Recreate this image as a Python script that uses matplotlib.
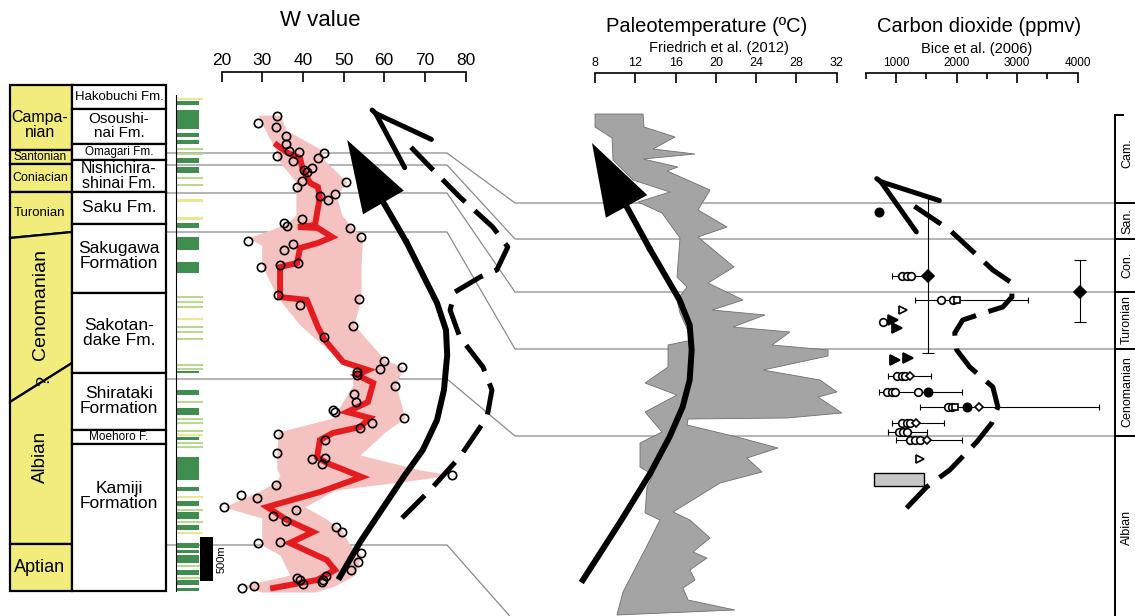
import numpy as np
import matplotlib.pyplot as plt
from matplotlib.patches import FancyArrowPatch

plt.rcParams['font.family'] = ['Liberation Sans', 'DejaVu Sans']

FIG_W, FIG_H = 1135, 616   # pixels; vertical levels below are figure rows (top = 0)

# ---------- stratigraphic column ----------
stage_names = ['Campa-\nnian', 'Santonian', 'Coniacian', 'Turonian', 'Cenomanian', 'Albian', 'Aptian']
stage_top_l = [85, 150, 164, 192, 238, 402, 544]
stage_top_r = [85, 150, 164, 192, 232, 363, 544]
stage_base = 591
stage_lab_y = [125, 157, 178, 213, 305, 457, 568]
stage_lab_rot = [0, 0, 0, 0, 90, 90, 0]
stage_lab_size = [11.5, 8.5, 9, 9.5, 14, 13.5, 13]

fm_names = ['Hakobuchi Fm.', 'Osoushi-\nnai Fm.', 'Omagari Fm.', 'Nishichira-\nshinai Fm.', 'Saku Fm.',
            'Sakugawa\nFormation', 'Sakotan-\ndake Fm.', 'Shirataki\nFormation', 'Moehoro F.', 'Kamiji\nFormation']
fm_bounds = [85, 109, 144, 160, 192, 224, 293, 373, 430, 444, 591]
fm_lab_y = [97, 126, 152, 176, 208, 256, 333, 401, 437, 496]
fm_lab_size = [9.5, 11, 8.5, 11.5, 12.5, 12.5, 12.5, 12.5, 8.5, 12.5]

lith_top = [98, 101, 110, 133, 140, 148, 153, 158, 167, 177, 184, 199, 217, 223, 237, 262, 296, 301,
            306, 318, 326, 331, 338, 364, 368, 371, 390, 401, 408, 418, 422, 430, 434, 437, 442, 446,
            457, 487, 496, 501, 509, 512, 521, 525, 532, 543, 550, 555, 565, 570, 577, 580, 588]
lith_bot = [100, 105, 129, 137, 144, 150, 155, 163, 173, 179, 186, 202, 220, 228, 250, 273, 298, 303,
            308, 320, 328, 333, 340, 366, 370, 373, 395, 403, 415, 420, 424, 432, 436, 440, 444, 448,
            480, 491, 498, 506, 511, 519, 523, 530, 534, 548, 553, 563, 567, 575, 579, 585, 591]
lith_kind = ['y', 'm', 'm', 'm', 'm', 's', 's', 'm', 'm', 's', 's', 'y', 'y', 'm', 'm', 'm', 's', 's',
             's', 'y', 's', 's', 's', 's', 's', 'm', 'm', 's', 'm', 's', 's', 's', 'y', 'm', 's', 's',
             'm', 'm', 'y', 'm', 's', 'm', 's', 'm', 'y', 'm', 'm', 'm', 's', 'm', 's', 'm', 'm']

# correlation lines: level in the section -> level on the age scale
tie_section = [153, 165, 193, 232, 379, 545]
tie_age = [203, 239, 292, 349, 436, 622]

age_names = ['Cam.', 'San.', 'Con.', 'Turonian', 'Cenomanian', 'Albian']
age_bounds = [115, 203, 239, 292, 349, 436, 616]
age_lab_y = [153, 221, 265, 320, 392, 527]

# ---------- W value ----------
w_lvl = [116, 123, 127, 136, 144, 151, 152, 156, 161, 153, 158, 168, 170, 172, 181, 187, 182, 196, 200,
         194, 219, 223, 226, 228, 237, 241, 244, 250, 263, 265, 267, 299, 295, 305, 326, 337, 361, 369,
         367, 372, 375, 386, 394, 402, 410, 412, 418, 423, 428, 434, 440, 453, 459, 458, 464, 475, 485,
         495, 498, 507, 510, 516, 521, 527, 532, 543, 542, 553, 562, 570, 578, 580, 584, 576, 580, 582,
         588, 586]
w_val = [33.6, 29.0, 33.4, 35.9, 35.9, 36.6, 39.1, 33.6, 37.6, 45.2, 43.7, 42.3, 40.3, 41.0, 39.8, 38.6,
         50.6, 44.2, 46.2, 47.9, 39.8, 35.4, 36.1, 51.6, 54.3, 26.5, 37.6, 35.4, 38.8, 34.4, 29.7, 53.8,
         33.9, 39.3, 52.3, 45.2, 60.0, 59.0, 64.4, 53.3, 53.3, 62.7, 52.6, 53.1, 47.4, 47.9, 64.9, 57.0,
         54.1, 33.9, 45.4, 33.6, 42.3, 45.4, 44.7, 76.7, 33.4, 24.8, 28.7, 20.6, 38.3, 32.7, 35.9, 48.2,
         49.6, 29.0, 34.4, 54.3, 53.6, 51.8, 38.6, 39.3, 40.0, 45.7, 45.0, 44.7, 25.0, 28.0]

w_mean_lvl = [145, 153, 158, 170, 183, 187, 197, 213, 225, 227, 228, 237, 243, 248, 263, 267, 297, 300,
              327, 340, 362, 370, 375, 383, 402, 412, 418, 427, 433, 440, 457, 463, 477, 492, 507, 520,
              532, 543, 560, 570, 580, 588]
w_mean = [33.6, 36.3, 39.3, 40.0, 41.8, 43.7, 44.2, 43.5, 43.0, 38.8, 43.7, 47.2, 43.7, 39.3, 38.6, 34.4,
          34.4, 41.0, 43.7, 45.4, 49.9, 56.0, 53.3, 57.3, 56.0, 50.9, 56.5, 54.1, 47.4, 44.2, 43.5, 45.9,
          54.5, 44.2, 31.2, 36.1, 42.5, 36.8, 45.9, 47.9, 43.5, 32.7]

w_env_lvl = [115, 130, 150, 160, 182, 195, 215, 225, 238, 245, 265, 298, 325, 360, 367, 385, 418, 432,
             455, 470, 475, 482, 490, 507, 518, 530, 545, 555, 575, 586, 592]
w_env_lo = [29.0, 30.7, 33.4, 33.9, 38.3, 38.3, 38.3, 35.4, 26.5, 29.9, 29.9, 33.9, 39.3, 49.1, 52.1,
            52.3, 47.4, 33.9, 33.6, 33.6, 34.4, 33.4, 29.9, 20.6, 29.9, 29.9, 29.9, 34.4, 36.8, 25.0, 29.9]
w_env_hi = [34.4, 35.9, 44.7, 45.2, 50.9, 48.2, 49.6, 51.6, 54.6, 54.6, 54.3, 54.3, 52.6, 60.2, 64.6,
            62.9, 65.1, 60.2, 54.1, 68.8, 76.7, 63.9, 47.9, 40.5, 45.4, 49.6, 51.6, 54.3, 52.8, 47.9, 43.0]

w_trend_lvl = [577, 542, 475, 450, 420, 390, 355, 330, 303, 243]
w_trend = [49.1, 54.1, 65.1, 69.5, 73.0, 74.7, 75.5, 75.2, 73.0, 65.6]
w_trend_tip = (50.9, 140)
w_trend2_lvl = [518, 490, 457, 417, 390, 367, 337, 310, 292, 277, 270, 247, 227, 197, 167, 143]
w_trend2 = [64.4, 71.3, 78.6, 85.3, 86.5, 84.3, 78.6, 76.2, 77.4, 83.6, 87.7, 90.4, 86.7, 78.6, 71.3, 65.6]
w_trend2_tip = (56.5, 108)

# ---------- paleotemperature (Friedrich et al. 2012), outline of the range ----------
temp_outline = [8.0, 12.77, 12.87, 15.94, 13.76, 17.93, 12.77, 16.24, 15.15, 19.42, 18.23, 21.11, 18.23,
                21.80, 19.22, 22.70, 19.62, 24.88, 21.70, 27.36, 25.58, 31.14, 31.14, 24.68, 30.34, 32.03,
                30.15, 32.52, 27.07, 17.24, 17.14, 22.10, 26.17, 23.09, 24.58, 20.41, 15.75, 17.43, 19.42,
                17.73, 19.12, 17.43, 17.93, 16.74, 17.24, 21.90, 10.18, 10.78, 13.46, 14.45, 12.97, 13.16,
                13.76, 12.47, 12.47, 14.65, 12.97, 16.14, 12.97, 15.25, 15.25, 17.63, 16.44, 16.14, 17.14,
                16.14, 16.44, 14.65, 12.27, 15.45, 11.77, 9.79, 9.69, 8.0]
temp_outline_lvl = [114, 114, 127, 137, 149, 154, 159, 167, 171, 190, 210, 227, 237, 267, 283, 300, 310,
                    315, 327, 332, 345, 350, 356, 370, 380, 392, 397, 413, 418, 419, 425, 437, 448, 458,
                    472, 483, 512, 520, 538, 552, 558, 570, 580, 588, 600, 610, 615, 592, 540, 520, 513,
                    487, 475, 467, 443, 432, 412, 395, 383, 367, 345, 340, 313, 300, 287, 277, 238, 213,
                    202, 192, 180, 160, 138, 127]
temp_trend_lvl = [580, 522, 473, 437, 407, 380, 350, 325, 300, 250]
temp_trend = [6.8, 10.5, 13.5, 15.4, 16.7, 17.4, 17.6, 17.4, 16.4, 13.5]
temp_trend_tip = (7.7, 143)

# ---------- carbon dioxide (Bice et al. 2006) ----------
err_lvl = [276, 300, 376, 392, 407, 423, 432, 440]
err_lo = [922, 1303, 856, 723, 1386, 922, 856, 988]
err_hi = [1519, 3177, 1569, 2083, 4355, 1784, 1502, 2083]
verr_x = [1519, 4040]
verr_lo = [197, 260]
verr_hi = [353, 322]

co2_open_circ = [1088, 1171, 1237, 1735, 1934, 1005, 1088, 1138, 840, 922, 972, 1353, 1851, 1917,
                 1088, 1171, 1221, 1038, 1105, 1171, 1221, 1303, 1386, 773]
co2_open_circ_lvl = [276, 276, 276, 300, 300, 376, 376, 376, 392, 392, 392, 392, 407, 407,
                     423, 423, 423, 432, 432, 432, 440, 440, 440, 322]
co2_open_sq = [1967, 2000]
co2_open_sq_lvl = [407, 300]
co2_fill_circ = [1519, 2166, 723]
co2_fill_circ_lvl = [392, 407, 212]
co2_open_dia = [1221, 2365, 1320, 1502]
co2_open_dia_lvl = [376, 407, 423, 440]
co2_fill_dia = [1519, 4040]
co2_fill_dia_lvl = [276, 292]
co2_open_tri = [1105, 1386]
co2_open_tri_lvl = [310, 459]
co2_fill_tri = [939, 1005, 972, 1187]
co2_fill_tri_lvl = [320, 328, 360, 358]
co2_box = (640, 1453, 473, 486)

co2_trend_lvl = [508, 487, 470, 442, 423, 407, 387, 367, 350, 333, 320, 312, 307, 297, 283, 270, 230, 205]
co2_trend = [1171, 1502, 1884, 2331, 2580, 2680, 2597, 2215, 2000, 1967, 2099, 2497, 2762, 2912, 2912,
             2597, 1884, 1270]
co2_trend_tip = (640, 177)

fig = plt.figure(figsize=(FIG_W / 100, FIG_H / 100), dpi=100)

# base layer in pixel units
base = fig.add_axes([0, 0, 1, 1])
base.set_xlim(0, FIG_W)
base.set_ylim(FIG_H, 0)
base.axis('off')

tie_kw = dict(color='#8a8a8a', lw=0.9, zorder=1)
for s, a in zip(tie_section, tie_age):
    base.plot([166, 447, 515, 1115], [s, s, a, a], **tie_kw)

yellow = '#f1ec7c'
for i, name in enumerate(stage_names):
    bl = stage_top_l[i + 1] if i + 1 < len(stage_names) else stage_base
    br = stage_top_r[i + 1] if i + 1 < len(stage_names) else stage_base
    base.fill([10, 72, 72, 10], [stage_top_l[i], stage_top_r[i], br, bl],
              facecolor=yellow, edgecolor='black', lw=1.6, zorder=3)
    base.text(40, stage_lab_y[i], name, ha='center', va='center', size=stage_lab_size[i],
              rotation=stage_lab_rot[i], linespacing=0.95, zorder=4)
base.text(45, 381, '?', ha='center', va='center', size=13, rotation=90, zorder=4)

for i, name in enumerate(fm_names):
    t, b = fm_bounds[i], fm_bounds[i + 1]
    base.fill([72, 166, 166, 72], [t, t, b, b], facecolor='white', edgecolor='black', lw=1.6, zorder=3)
    base.text(119, fm_lab_y[i], name, ha='center', va='center', size=fm_lab_size[i],
              linespacing=0.95, zorder=4)

lith_col = {'m': '#3f8d4f', 's': '#b9d98c', 'y': '#e6e98e'}
lith_w = {'m': 22, 's': 26, 'y': 26}
heights = np.array(lith_bot) - np.array(lith_top)
base.bar(np.full(len(lith_top), 177), heights, bottom=lith_top, align='edge',
         width=[lith_w[k] for k in lith_kind], color=[lith_col[k] for k in lith_kind], lw=0, zorder=3)
base.plot([176, 176], [95, 591], color='black', lw=0.8, zorder=4)
base.bar(200, 44, bottom=537, width=13, align='edge', color='black', zorder=4)
base.text(222, 559, '500m', rotation=90, ha='center', va='center', size=8)

# right-hand age column
base.plot([1115, 1115], [age_bounds[0], age_bounds[-1]], color='black', lw=1.4)
base.plot([1115, 1123], [age_bounds[0], age_bounds[0]], color='black', lw=1.4)
for b in age_bounds[1:-1]:
    base.plot([1115, 1135], [b, b], color='black', lw=1.4)
for name, y in zip(age_names, age_lab_y):
    base.text(1127, y, name, rotation=90, ha='center', va='center', size=9)

# titles
base.text(320, 20, 'W value', ha='center', va='center', size=16)
base.text(707, 27, 'Paleotemperature (ºC)', ha='center', va='center', size=14.5)
base.text(719, 48, 'Friedrich et al. (2012)', ha='center', va='center', size=10.5)
base.text(979, 26, 'Carbon dioxide (ppmv)', ha='center', va='center', size=14.5)
base.text(977, 49, 'Bice et al. (2006)', ha='center', va='center', size=10.5)


def panel(px0, px1, v0, v1, ext0, ext1, spine_lvl, ticks, labels, lsize, minor=None):
    k = (px1 - px0) / (v1 - v0)
    ax = fig.add_axes([ext0 / FIG_W, 0, (ext1 - ext0) / FIG_W, 1])
    ax.set_xlim(v0 - (px0 - ext0) / k, v1 + (ext1 - px1) / k)
    ax.set_ylim(FIG_H, 0)
    ax.patch.set_visible(False)
    for s in ['left', 'right', 'bottom']:
        ax.spines[s].set_visible(False)
    ax.spines['top'].set_position(('data', spine_lvl))
    ax.spines['top'].set_bounds(v0, v1)
    ax.spines['top'].set_linewidth(1.2)
    ax.xaxis.set_ticks_position('top')
    ax.set_xticks(ticks)
    ax.set_xticklabels(labels)
    if minor is not None:
        ax.set_xticks(minor, minor=True)
    ax.tick_params(axis='x', which='major', direction='in', length=7.5, width=1.2, pad=3, labelsize=lsize)
    ax.tick_params(axis='x', which='minor', direction='in', length=4, width=1.2)
    ax.set_yticks([])
    return ax


def solid_head(ax, tail, tip):
    # filled arrow whose tail has the width of the shaft line
    style = 'simple,head_length=52,head_width=34,tail_width=4.3'
    ax.add_patch(FancyArrowPatch(tail, tip, arrowstyle=style, mutation_scale=1, lw=0,
                                 color='black', shrinkA=0, shrinkB=0, zorder=6))


def open_head(ax, shaft_x, shaft_y, tip, lw):
    tail = (tip[0] + 0.06 * (shaft_x - tip[0]), tip[1] + 0.06 * (shaft_y - tip[1]))
    ax.add_patch(FancyArrowPatch(tail, tip, arrowstyle='->,head_length=42,head_width=14',
                                 mutation_scale=1, lw=lw, color='black', shrinkA=0, shrinkB=0, zorder=6))


dash = (6.4, 2.6)

# W value panel
axw = panel(221.5, 465.5, 20, 80, 215, 545, 72, [20, 30, 40, 50, 60, 70, 80],
            ['20', '30', '40', '50', '60', '70', '80'], 12.5)
axw.fill_betweenx(w_env_lvl, w_env_lo, w_env_hi, color='#f5c2c2', lw=0, zorder=1)
axw.plot(w_mean, w_mean_lvl, color='#e41b1f', lw=4.3, solid_joinstyle='miter', zorder=3)
axw.plot(w_val, w_lvl, 'o', ms=6, mfc='none', mec='black', mew=1.2, zorder=4)
axw.plot(w_trend, w_trend_lvl, color='black', lw=4.3, zorder=5)
solid_head(axw, (w_trend[-1], w_trend_lvl[-1]), w_trend_tip)
axw.plot(w_trend2, w_trend2_lvl, color='black', lw=3.6, dashes=dash, zorder=5)
open_head(axw, w_trend2[-1], w_trend2_lvl[-1], w_trend2_tip, 3.6)

# paleotemperature panel
axt = panel(595, 836.7, 8, 32, 570, 860, 73, [8, 12, 16, 20, 24, 28, 32],
            ['8', '12', '16', '20', '24', '28', '32'], 9)
axt.fill(temp_outline, temp_outline_lvl, facecolor='#a4a4a4', edgecolor='#6f6f6f', lw=0.6, zorder=2)
axt.plot(temp_trend, temp_trend_lvl, color='black', lw=4.3, zorder=5)
solid_head(axt, (temp_trend[-1], temp_trend_lvl[-1]), temp_trend_tip)

# carbon dioxide panel
axc = panel(866, 1077.7, 500, 4000, 860, 1112, 73, [1000, 2000, 3000, 4000],
            ['1000', '2000', '3000', '4000'], 8.5, minor=[500, 1500, 2500, 3500])
axc.hlines(err_lvl, err_lo, err_hi, color='black', lw=0.8, zorder=3)
axc.plot(err_lo, err_lvl, '|', color='black', ms=5, mew=0.8, zorder=3)
axc.plot(err_hi, err_lvl, '|', color='black', ms=5, mew=0.8, zorder=3)
axc.vlines(verr_x, verr_lo, verr_hi, color='black', lw=0.8, zorder=3)
axc.plot(verr_x, verr_lo, '_', color='black', ms=8, mew=0.8, zorder=3)
axc.plot(verr_x, verr_hi, '_', color='black', ms=8, mew=0.8, zorder=3)
mk = dict(ls='none', mec='black', mew=1.2, zorder=4)
axc.plot(co2_open_circ, co2_open_circ_lvl, 'o', ms=5.5, mfc='white', **mk)
axc.plot(co2_open_sq, co2_open_sq_lvl, 's', ms=5, mfc='white', **mk)
axc.plot(co2_fill_circ, co2_fill_circ_lvl, 'o', ms=6, mfc='black', **mk)
axc.plot(co2_open_dia, co2_open_dia_lvl, 'D', ms=4.5, mfc='white', **mk)
axc.plot(co2_fill_dia, co2_fill_dia_lvl, 'D', ms=6, mfc='black', **mk)
axc.plot(co2_open_tri, co2_open_tri_lvl, '>', ms=5.5, mfc='white', **mk)
axc.plot(co2_fill_tri, co2_fill_tri_lvl, '>', ms=6.5, mfc='black', **mk)
axc.barh((co2_box[2] + co2_box[3]) / 2, co2_box[1] - co2_box[0], left=co2_box[0],
         height=co2_box[3] - co2_box[2], color='#c8c8c8', edgecolor='black', lw=1, zorder=3)
axc.plot(co2_trend, co2_trend_lvl, color='black', lw=3.6, dashes=dash, zorder=5)
open_head(axc, co2_trend[-1], co2_trend_lvl[-1], co2_trend_tip, 3.6)

fig.savefig('out.png', dpi=100)
